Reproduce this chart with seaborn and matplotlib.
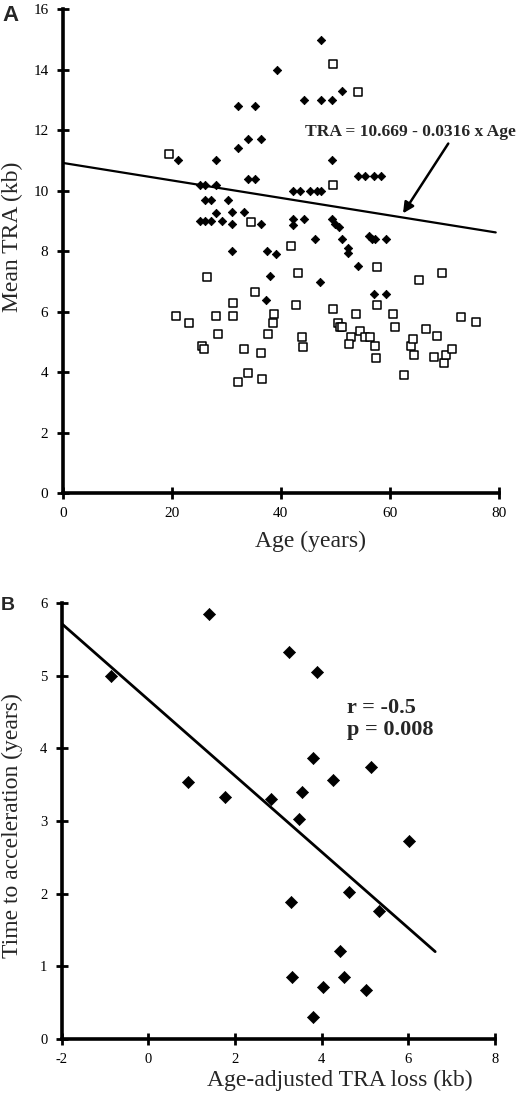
import numpy as np
import pandas as pd
import matplotlib
matplotlib.use("Agg")
import matplotlib.pyplot as plt
import seaborn as sns

# panel A: age vs mean TRA, two groups
diamond_age = [21.1, 47.4, 39.3, 44.3, 47.3, 49.3, 51.3, 32.2, 35.3, 32.2, 34.0, 36.4,
               28.1, 49.3, 34.0, 35.3, 54.2, 55.4, 57.1, 58.4, 25.1, 26.1, 28.1, 26.1,
               27.1, 30.3, 25.1, 26.1, 27.1, 28.1, 29.2, 31.1, 33.3, 31.1, 36.4, 31.1,
               37.4, 39.2, 42.3, 42.3, 44.3, 42.3, 43.5, 45.4, 46.6, 47.3, 46.2, 49.3,
               49.9, 50.6, 51.3, 52.3, 52.3, 56.2, 56.8, 57.3, 59.2, 54.1, 38.1, 37.2,
               47.1, 57.1, 59.3]
diamond_tra = [11.0, 15.0, 14.0, 13.0, 13.0, 13.0, 13.3, 12.8, 12.8, 11.4, 11.7, 11.7,
               11.0, 11.0, 10.4, 10.4, 10.5, 10.5, 10.5, 10.5, 10.2, 10.2, 10.2, 9.7,
               9.7, 9.7, 9.0, 9.0, 9.0, 9.25, 9.0, 9.3, 9.3, 8.9, 8.9, 8.0,
               8.0, 7.9, 9.05, 8.85, 9.05, 10.0, 10.0, 10.0, 10.0, 10.0, 8.4, 9.05,
               8.9, 8.8, 8.4, 8.1, 7.95, 8.5, 8.4, 8.4, 8.4, 7.5, 7.18, 6.38,
               6.99, 6.58, 6.58]

square_age = [19.4, 49.6, 54.2, 49.6, 34.5, 41.9, 43.1, 57.6, 69.5, 26.5, 20.8, 23.2,
              25.6, 25.9, 28.1, 28.4, 31.2, 31.2, 32.1, 33.3, 34.0, 35.3, 36.3, 36.5,
              37.6, 38.5, 38.8, 42.8, 43.9, 44.1, 49.5, 50.4, 50.9, 51.2, 52.8, 52.5,
              53.7, 54.6, 55.4, 56.4, 57.3, 57.4, 57.7, 60.5, 60.9, 62.5, 63.9, 64.2,
              64.4, 65.4, 66.6, 68.7, 68.1, 69.9, 70.2, 71.3, 73.0, 75.8]
square_tra = [11.2, 14.2, 13.25, 10.2, 8.97, 8.17, 7.29, 7.46, 7.29, 7.15, 5.86, 5.64,
              4.86, 4.75, 5.86, 5.26, 6.3, 5.86, 3.66, 4.76, 3.98, 6.66, 4.62, 3.77,
              5.26, 5.64, 5.92, 6.21, 5.15, 4.82, 6.1, 5.61, 5.5, 5.5, 5.17, 4.93,
              5.92, 5.37, 5.17, 5.17, 4.87, 4.47, 6.21, 5.92, 5.5, 3.92, 4.86, 5.08,
              4.56, 7.04, 5.44, 5.2, 4.5, 4.29, 4.56, 4.76, 5.81, 5.66]

fit_a_age = [0, 79.4]
fit_a_tra = [10.92, 8.62]

# panel B: TRA loss vs time to acceleration
loss_kb = [-0.86, 1.41, 0.91, 1.78, 2.82, 3.25, 3.9, 3.81, 3.55, 3.48, 4.25, 5.14,
           6.02, 4.63, 5.33, 3.29, 4.42, 3.32, 4.52, 4.02, 5.02, 3.81]
time_acc = [5.0, 5.85, 3.54, 3.33, 3.31, 5.33, 5.05, 3.87, 3.40, 3.03, 3.57, 3.75,
            2.73, 2.02, 1.76, 1.88, 1.21, 0.85, 0.85, 0.71, 0.67, 0.30]

fit_b_loss = [-2, 6.62]
fit_b_time = [5.72, 1.20]

sns.set_style("white")
plt.rcParams['font.family'] = ['Liberation Serif', 'DejaVu Serif']
plt.rcParams['axes.unicode_minus'] = False

fig = plt.figure(figsize=(5.2, 10.98), dpi=100)
axA = fig.add_axes([0.1206, 0.551, 0.839, 0.4405])
axB = fig.add_axes([0.1187, 0.054, 0.8332, 0.3965])


def style_axes(ax, tick_fs):
    sns.despine(ax=ax)
    for s in ['left', 'bottom']:
        ax.spines[s].set_linewidth(2.6)
        ax.spines[s].set_color('black')
    ax.tick_params(direction='inout', length=8.5, width=2.0, pad=6,
                   labelsize=tick_fs, colors='black', left=True, bottom=True)


# ---- A ----
sns.scatterplot(x=diamond_age, y=diamond_tra, marker='D', color='black',
                s=18, edgecolor='black', linewidth=0.6, ax=axA, zorder=3)
sns.scatterplot(x=square_age, y=square_tra, marker='s', color='white',
                s=34, edgecolor='black', linewidth=1.1, ax=axA, zorder=3)
sns.lineplot(x=fit_a_age, y=fit_a_tra, color='black', linewidth=1.6, ax=axA)
axA.set_xlim(0, 80)
axA.set_ylim(0, 16)
axA.set_xticks([0, 20, 40, 60, 80])
axA.set_yticks(range(0, 17, 2))
style_axes(axA, 11)
axA.set_xlabel('Age (years)', fontsize=17)
axA.set_ylabel('Mean TRA (kb)', fontsize=17)
axA.xaxis.set_label_coords(0.569, -0.078)
axA.yaxis.set_label_coords(-0.091, 0.53)
axA.annotate('', xy=(62.4, 9.25), xytext=(70.7, 11.56),
             arrowprops=dict(arrowstyle='-|>', color='black', lw=1.8,
                             mutation_scale=16, shrinkA=0, shrinkB=0))
axA.text(44.4, 11.8, 'TRA = 10.669 - 0.0316 x Age', fontsize=12.6,
         fontweight='bold', ha='left', va='baseline', clip_on=False)

# ---- B ----
sns.scatterplot(x=loss_kb, y=time_acc, marker='D', color='black',
                s=38, edgecolor='black', linewidth=0.5, ax=axB, zorder=3)
sns.lineplot(x=fit_b_loss, y=fit_b_time, color='black', linewidth=2.0, ax=axB)
axB.set_xlim(-2, 8)
axB.set_ylim(0, 6)
axB.set_xticks([-2, 0, 2, 4, 6, 8])
axB.set_yticks(range(0, 7))
style_axes(axB, 10.5)
axB.set_xlabel('Age-adjusted TRA loss (kb)', fontsize=17, ha='right')
axB.set_ylabel('Time to acceleration (years)', fontsize=17)
axB.xaxis.set_label_coords(0.949, -0.072)
axB.yaxis.set_label_coords(-0.089, 0.49)
axB.text(4.58, 4.49, 'r = -0.5', fontsize=16, fontweight='bold', va='baseline')
axB.text(4.58, 4.18, 'p = 0.008', fontsize=16, fontweight='bold', va='baseline')

fig.text(0.004, 0.9805, 'A', fontsize=16, fontweight='bold',
         family='Liberation Sans', va='baseline')
fig.text(0.002, 0.4445, 'B', fontsize=14, fontweight='bold',
         family='Liberation Sans', va='baseline')

fig.savefig('out.png', dpi=100, facecolor='white')
